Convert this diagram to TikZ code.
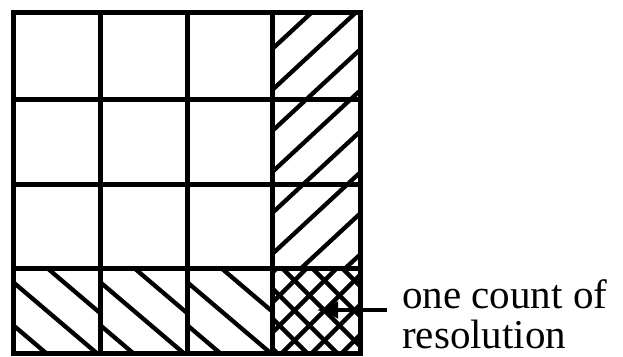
\documentclass[tikz,border=0pt]{standalone}
\usepackage{fontspec}
\setmainfont{Liberation Serif}
\usetikzlibrary{arrows.meta}
\tikzset{
  gridline/.style={line width=5pt, line cap=rect},
  hatchline/.style={line width=4.3pt},
  labeltext/.style={font=\fontsize{41}{40}\selectfont, align=left, inner sep=0pt},
  pointer/.style={line width=4.5pt, -{Latex[length=22pt,width=18pt]}}
}
\begin{document}
\begin{tikzpicture}[x=1pt,y=-1pt]
\useasboundingbox (0,0) rectangle (623,356);
% right column, rows 1-3: "/" hatching
\foreach \ya/\yb in {12/99,99/184,184/268}{
  \begin{scope}
    \clip (272,\ya) rectangle (360,\yb);
    \foreach \c in {9,50,91,132,173,214,255,296,337,378}{
      \draw[hatchline] (262,\c+8.5) -- (372,\c-93.5);
    }
  \end{scope}
}
% bottom row, columns 1-3: "\" hatching
\foreach \xa/\xb in {13/100,100/187,187/272}{
  \begin{scope}
    \clip (\xa,268) rectangle (\xb,353);
    \foreach \d in {-29,14,57,100}{
      \draw[hatchline] (\xa-10,268+\d-8.5) -- (\xa+100,268+\d+85);
    }
  \end{scope}
}
% bottom-right cell: cross hatching
\begin{scope}
  \clip (272,268) rectangle (360,353);
  \foreach \d in {-90,-60,-30,0,30,60,90}{
    \draw[hatchline] (262,278+\d) -- (372,388+\d);
    \draw[hatchline] (262,343+\d) -- (372,233+\d);
  }
\end{scope}
% grid
\foreach \x in {13,100,187,272,360}{
  \draw[gridline] (\x,12) -- (\x,353);
}
\foreach \y in {12,99,184,268,353}{
  \draw[gridline] (13,\y) -- (360,\y);
}
% label and pointer
\node[labeltext, anchor=base west] (lbl) at (402,348) {one count of\\resolution};
\coordinate (tip) at (316,310);
\draw[pointer] (lbl.west |- tip) ++(-15,0) coordinate (tail) -- (tip);
\end{tikzpicture}
\end{document}
